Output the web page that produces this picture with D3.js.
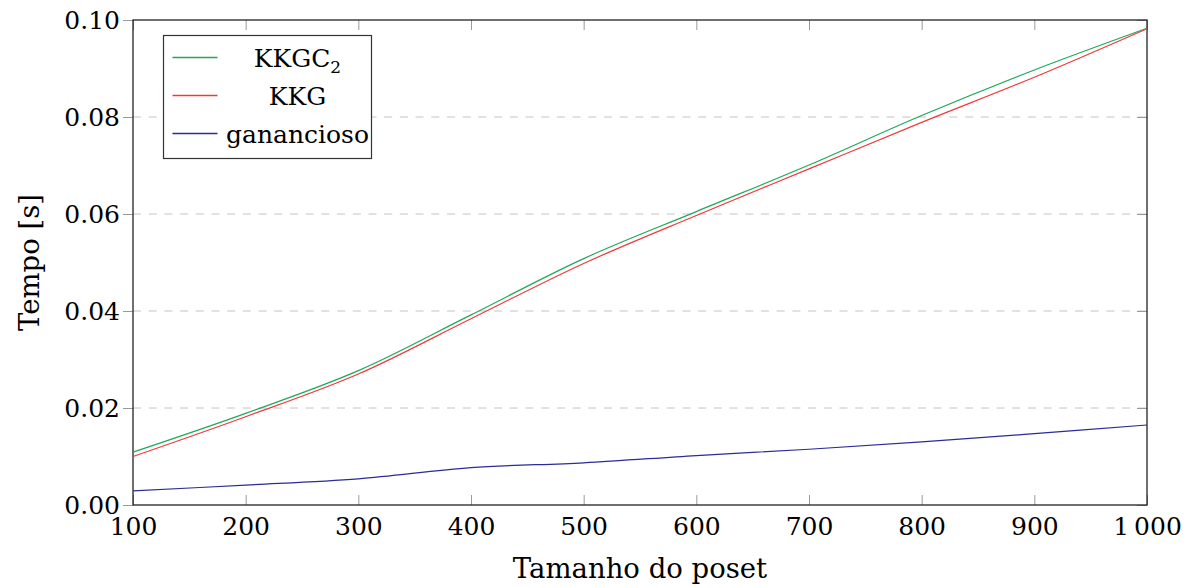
<!DOCTYPE html>
<html>
<head>
<meta charset="utf-8">
<script src="https://cdn.jsdelivr.net/npm/d3@7"></script>
<style>
  body { margin: 0; background: #fff; }
  svg text { fill: #000; }
</style>
</head>
<body>
<svg id="chart" width="1192" height="588"></svg>
<script>
// poset sizes
var tamanhos = [100, 200, 300, 400, 500, 600, 700, 800, 900, 1000];

// tempos em segundos
var kkgc2 = [0.0109, 0.0189, 0.0277, 0.0392, 0.0508, 0.0605, 0.0701, 0.0803, 0.0897, 0.0983];
var kkg = [0.0100, 0.0182, 0.0270, 0.0384, 0.0498, 0.0597, 0.0693, 0.0789, 0.0882, 0.0982];
var ganancioso = [0.0029, 0.0041, 0.0054, 0.0077, 0.0087, 0.0102, 0.0115, 0.0130, 0.0147, 0.0165];

var xTicks = [100, 200, 300, 400, 500, 600, 700, 800, 900, 1000];
var yTicks = [0, 0.02, 0.04, 0.06, 0.08, 0.10];
var gridTicks = [0.02, 0.04, 0.06, 0.08];

var series = [
  {name: 'KKGC', sub: '2', values: kkgc2, color: '#1fa85c'},
  {name: 'KKG', sub: null, values: kkg, color: '#f03a3a'},
  {name: 'ganancioso', sub: null, values: ganancioso, color: '#2b2b9a'}
];

var serif = '"DejaVu Serif", serif';

var margin = {top: 20, right: 45, bottom: 83, left: 133};
var width = 1192 - margin.left - margin.right;
var height = 588 - margin.top - margin.bottom;

var svg = d3.select('#chart');
var g = svg.append('g').attr('transform', 'translate(' + margin.left + ',' + margin.top + ')');

var x = d3.scaleLinear().domain([100, 1000]).range([0, width]);
var y = d3.scaleLinear().domain([0, 0.1]).range([height, 0]);

//************************ Grid *************************/
g.append('g')
  .selectAll('line')
  .data(gridTicks)
  .enter().append('line')
  .attr('x1', 0).attr('x2', width)
  .attr('y1', d => y(d)).attr('y2', d => y(d))
  .attr('stroke', '#c4c4c4')
  .attr('stroke-width', 1)
  .attr('stroke-dasharray', '8,7.7');

//************************ Axes *************************/
var fmtX = d => d >= 1000 ? '1\u2009000' : String(d);

var xBottom = g.append('g')
  .attr('transform', 'translate(0,' + height + ')')
  .call(d3.axisBottom(x).tickValues(xTicks).tickSizeInner(-10).tickSizeOuter(0).tickPadding(12).tickFormat(fmtX));

var xTop = g.append('g')
  .call(d3.axisTop(x).tickValues(xTicks).tickSizeInner(-10).tickSizeOuter(0).tickFormat(''));

var yLeft = g.append('g')
  .call(d3.axisLeft(y).tickValues(yTicks).tickSizeInner(10).tickSizeOuter(0).tickPadding(3).tickFormat(d3.format('.2f')));

var yRight = g.append('g')
  .attr('transform', 'translate(' + width + ',0)')
  .call(d3.axisRight(y).tickValues(yTicks).tickSizeInner(-10).tickSizeOuter(0).tickFormat(''));

[xBottom, xTop, yLeft, yRight].forEach(function(a) {
  a.attr('font-family', serif);
  a.select('.domain').remove();
  a.selectAll('.tick line').attr('stroke', '#9a9a9a').attr('stroke-width', 1);
  a.selectAll('text').attr('font-size', '25px');
});
xBottom.selectAll('.tick text').attr('dy', '0.71em');
yLeft.selectAll('.tick text').attr('dy', '0.35em');

// frame
g.append('rect')
  .attr('x', 0).attr('y', 0)
  .attr('width', width).attr('height', height)
  .attr('fill', 'none')
  .attr('stroke', '#222')
  .attr('stroke-width', 1.3);

//************************ Lines *************************/
var line = d3.line()
  .x((d, i) => x(tamanhos[i]))
  .y(d => y(d))
  .curve(d3.curveCatmullRom.alpha(0.5));

g.append('g')
  .selectAll('path')
  .data(series)
  .enter().append('path')
  .attr('d', d => line(d.values))
  .attr('fill', 'none')
  .attr('stroke', d => d.color)
  .attr('stroke-width', 1.2);

//************************ Axis titles *************************/
svg.append('text')
  .attr('x', margin.left + width / 2)
  .attr('y', 578)
  .attr('text-anchor', 'middle')
  .attr('font-size', '27.5px')
  .attr('font-family', serif)
  .text('Tamanho do poset');

svg.append('text')
  .attr('transform', 'translate(39,' + (margin.top + height / 2) + ') rotate(-90)')
  .attr('text-anchor', 'middle')
  .attr('font-size', '27.5px')
  .attr('font-family', serif)
  .text('Tempo [s]');

//************************ Legend *************************/
var legend = svg.append('g').attr('transform', 'translate(163.5,35.5)');

legend.append('rect')
  .attr('width', 208).attr('height', 123)
  .attr('fill', '#fff')
  .attr('stroke', '#333')
  .attr('stroke-width', 1.2);

var rows = legend.selectAll('g.row')
  .data(series)
  .enter().append('g')
  .attr('class', 'row')
  .attr('transform', (d, i) => 'translate(0,' + (22 + i * 38) + ')');

rows.append('line')
  .attr('x1', 9).attr('x2', 54)
  .attr('y1', 0).attr('y2', 0)
  .attr('stroke', d => d.color)
  .attr('stroke-width', 1.5);

var labels = rows.append('text')
  .attr('x', 134)
  .attr('y', 9)
  .attr('text-anchor', 'middle')
  .attr('font-size', '25px')
  .attr('font-family', serif);

labels.append('tspan').text(d => d.name);
labels.filter(d => d.sub).append('tspan')
  .attr('font-size', '17px')
  .attr('dy', 6)
  .text(d => d.sub);
</script>
</body>
</html>
